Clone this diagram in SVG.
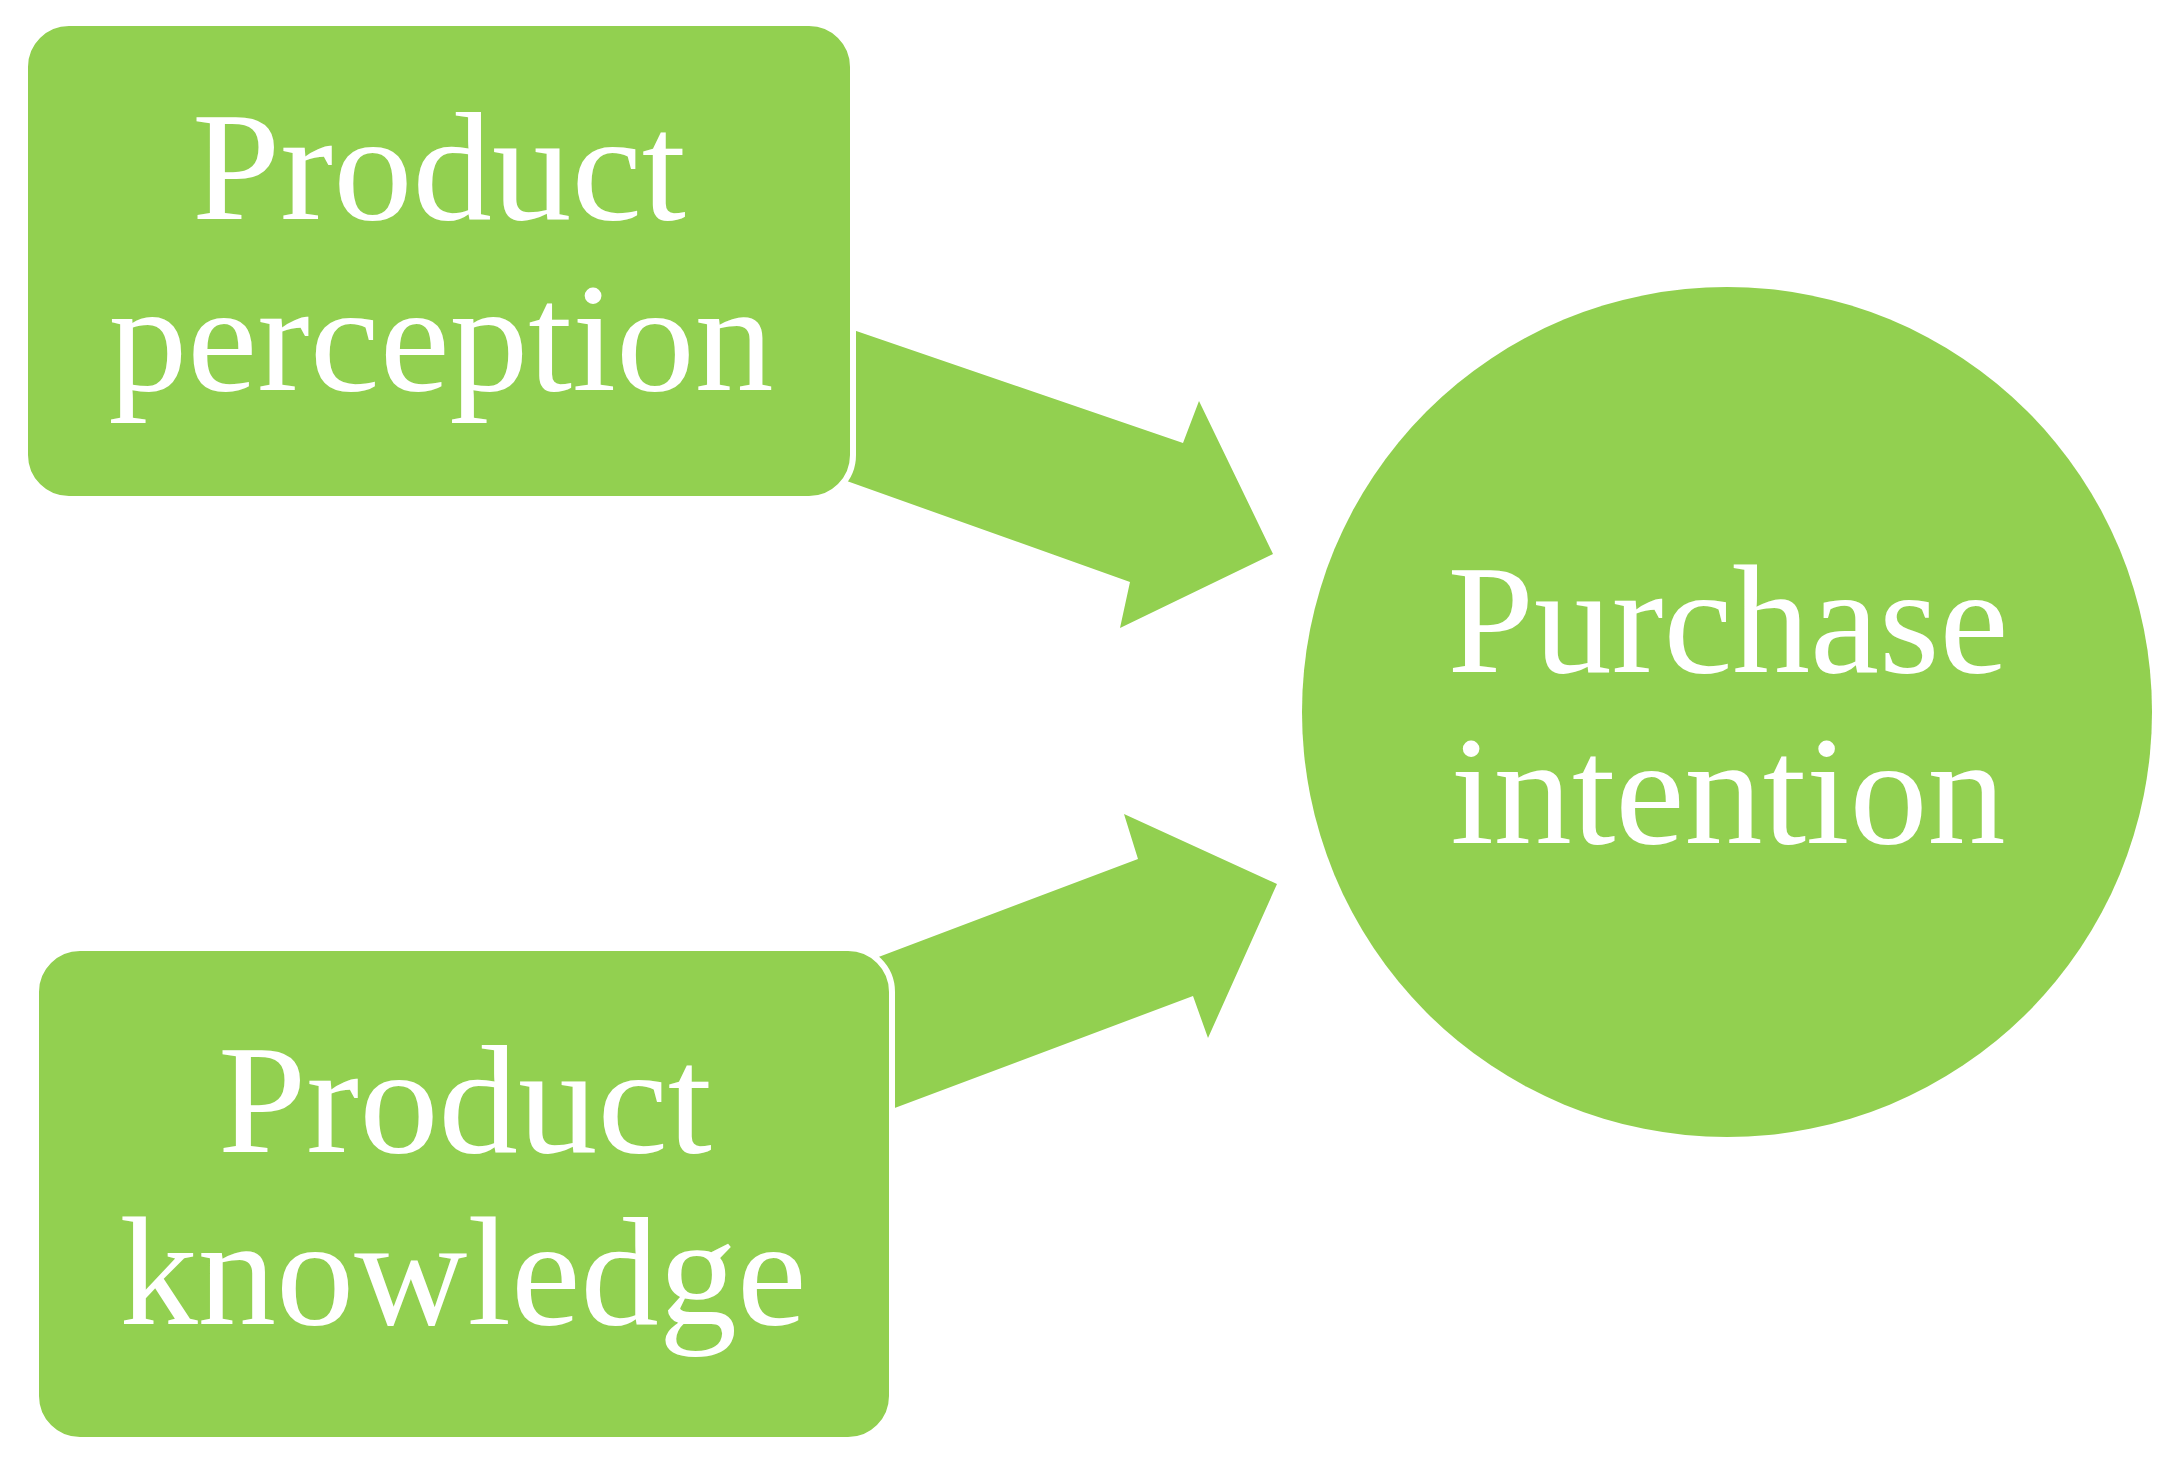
<svg xmlns="http://www.w3.org/2000/svg" width="2182" height="1468" viewBox="0 0 2182 1468">
<style>
.shape{fill:#92D050}
.box{fill:#92D050;stroke:#ffffff;stroke-width:6}
.lbl{font-family:"Liberation Serif","Times New Roman",serif;font-size:155px;fill:#ffffff;text-anchor:middle}
</style>
<rect width="2182" height="1468" fill="#ffffff"/>
<g id="connectors">
<polygon class="shape" points="830,322 1183,443 1199,401 1273,554 1120,628 1130,582 830,475"/>
<polygon class="shape" points="860,964 1138,859 1124,814 1277,884 1208,1038 1193,996 860,1121"/>
</g>
<g id="product-perception">
<rect class="box" x="25" y="23" width="828" height="476" rx="44"/>
<text class="lbl" x="439" y="219" textLength="494" lengthAdjust="spacingAndGlyphs">Product</text>
<text class="lbl" x="441" y="390" textLength="665" lengthAdjust="spacingAndGlyphs">perception</text>
</g>
<g id="product-knowledge">
<rect class="box" x="36" y="948" width="856" height="492" rx="44"/>
<text class="lbl" x="465" y="1152" textLength="494" lengthAdjust="spacingAndGlyphs">Product</text>
<text class="lbl" x="463" y="1324" textLength="687" lengthAdjust="spacingAndGlyphs">knowledge</text>
</g>
<g id="purchase-intention">
<circle class="shape" cx="1727" cy="712" r="425"/>
<text class="lbl" x="1728" y="672" textLength="561" lengthAdjust="spacingAndGlyphs">Purchase</text>
<text class="lbl" x="1728" y="843" textLength="555" lengthAdjust="spacingAndGlyphs">intention</text>
</g>
</svg>
